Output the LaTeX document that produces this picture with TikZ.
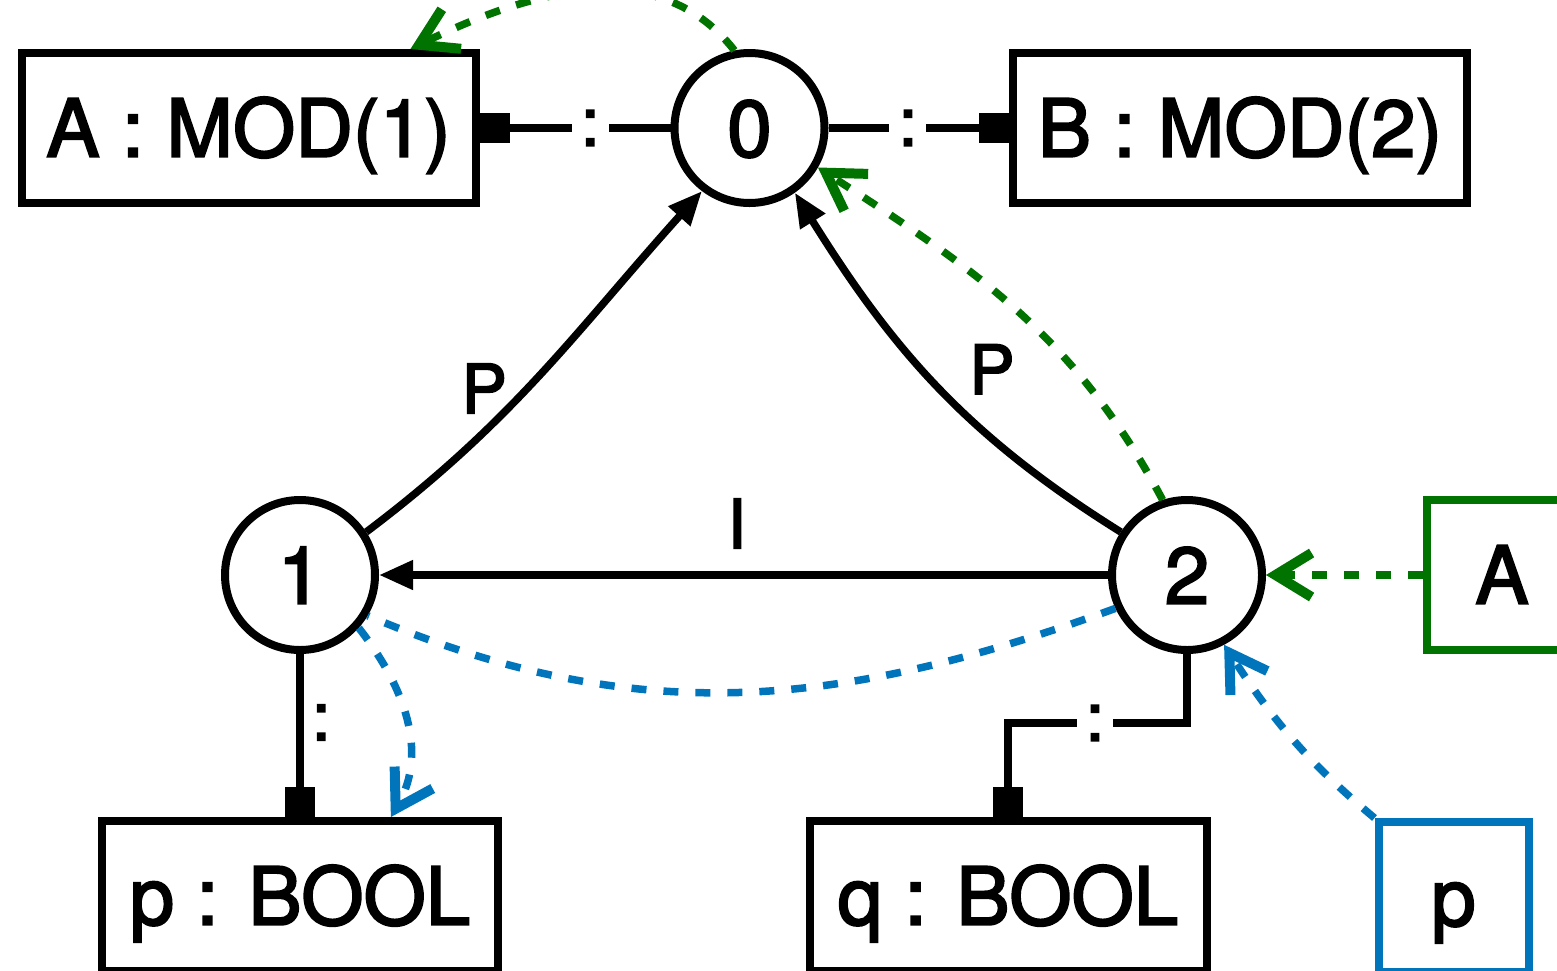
\documentclass[tikz,border=0pt]{standalone}
\usepackage{fontspec}
\setmainfont[FakeBold=2.5]{TeX Gyre Heros}
\usetikzlibrary{arrows.meta,calc}
\definecolor{dgreen}{RGB}{0,115,0}
\definecolor{dblue}{RGB}{0,117,188}
\begin{document}
\begin{tikzpicture}[x=0.5pt,y=-0.5pt,
  box/.style={draw, line width=4pt, rectangle, inner sep=0pt, minimum height=75pt, font=\fontsize{40}{48}\selectfont, text height=28.7pt, text depth=0pt},
  circ/.style={draw, line width=4pt, circle, inner sep=0pt, minimum size=75pt, font=\fontsize{40}{48}\selectfont, text height=28.7pt, text depth=0pt},
  conn/.style={line width=3.75pt},
  blk/.style={-{Triangle[length=17pt,width=14pt]}},
  sqend/.style={-{Square[length=15pt,width=15pt]}},
  sqstart/.style={{Square[length=15pt,width=15pt]}-},
  opn/.style={-{Straight Barb[length=18pt,width=22pt,line width=5pt]}},
  dsh/.style={line width=3.75pt, dash pattern=on 7.5pt off 8.5pt},
  colon/.style={fill=white, font=\fontsize{34}{40}\selectfont, inner xsep=4.5pt, inner ysep=2pt},
  lab/.style={font=\fontsize{34}{40}\selectfont, inner sep=0pt},
]
\useasboundingbox (0,0) rectangle (1557,970);
\clip (0,0) rectangle (1557,970);

% nodes
\node[box, minimum width=227pt] (A1) at (248.5,128) {A : MOD(1)};
\node[box, minimum width=227pt] (B) at (1240,128) {B : MOD(2)};
\node[circ] (n0) at (749.5,128) {0};
\node[circ] (n1) at (300,575) {1};
\node[circ] (n2) at (1187,575) {2};
\node[box, minimum width=198pt] (pB) at (300,896) {p : BOOL};
\node[box, minimum width=198.5pt] (q) at (1008,896) {q : BOOL};
\node[box, draw=dgreen, minimum width=75pt] (Ab) at (1502,575) {A};
\node[box, draw=dblue, minimum width=75pt] (pb) at (1453.5,897) {p};
\coordinate (qm) at (1095,723);

% typing connectors
\draw[conn, sqstart] (A1) -- node[colon, pos=0.58] {:} (n0);
\draw[conn, sqend] (n0) -- node[colon, pos=0.44] {:} (B);
\draw[conn, sqend] (n1.south) -- node[lab, pos=0.42, anchor=west, inner xsep=4pt] {:} (n1.south |- pB.north);
\draw[conn, sqend] (n2.south) |- (qm) node[colon] {:} -| (q.north);

% black edges
\draw[conn, blk] (n1.33) to[out=37,in=228] node[lab, pos=0.5, xshift=-29.5pt, yshift=-8.5pt] {P} (n0.233);
\draw[conn, blk] (n2.147) to[out=148,in=-58] node[lab, pos=0.5, xshift=28pt, yshift=7.5pt] {P} (n0.305);
\draw[conn, blk] (n2) -- node[lab, pos=0.509, above=11.5pt] {I} (n1);

% green dashed
\draw[dsh, dgreen, opn] (n2.108) to[out=118,in=-33] (n0.330);
\draw[dsh, dgreen, opn] (n0.101) to[out=128,in=26] (A1.26.5);
\draw[dsh, dgreen, opn] (Ab) -- (n2);

% blue dashed
\draw[dsh, dblue] (n2.205) to[out=200,in=-23] (n1.-31);
\draw[dsh, dblue, opn] (n1.-42) to[out=-52,in=60] (pB.41.6);
\draw[dsh, dblue, opn] (pb.north west) to[out=140,in=-57] (n2.-62);
\end{tikzpicture}
\end{document}
